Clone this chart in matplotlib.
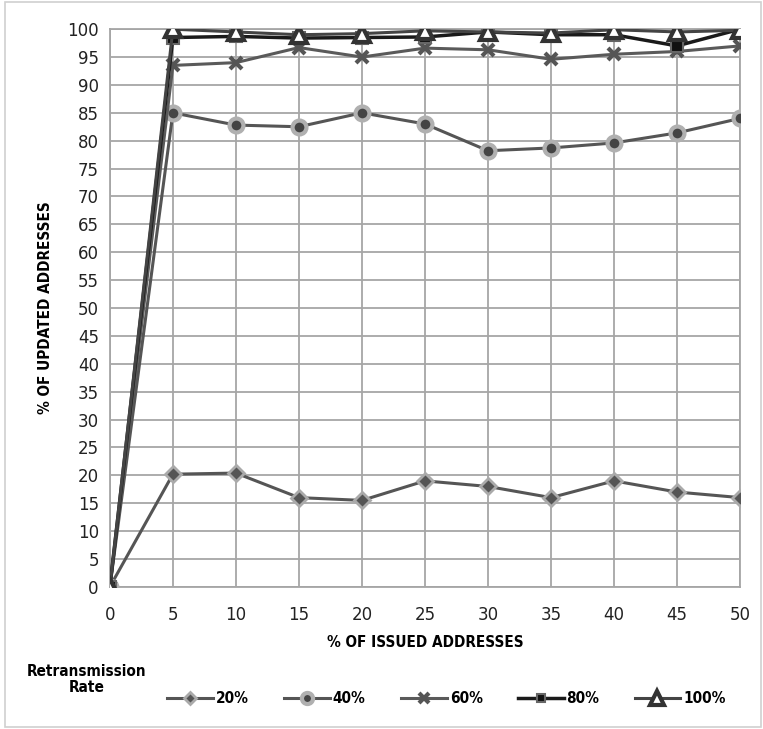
import matplotlib.pyplot as plt
import numpy as np

x = np.array([0, 5, 10, 15, 20, 25, 30, 35, 40, 45, 50])
r20 = [0, 20.2, 20.4, 16, 15.5, 19, 18, 16, 19, 17, 16]
r40 = [0, 85, 82.8, 82.5, 85, 83, 78.2, 78.7, 79.6, 81.4, 84]
r60 = [0, 93.5, 94, 96.7, 95, 96.6, 96.3, 94.6, 95.5, 96, 97]
r80 = [0, 98.5, 98.7, 98.4, 98.5, 98.6, 99.5, 99, 99, 97, 100]
r100 = [0, 100, 99.5, 99, 99.2, 99.7, 99.5, 99.3, 99.9, 99.5, 99.8]
names = ['20%', '40%', '60%', '80%', '100%']

fig = plt.figure(figsize=(7.63, 7.29), dpi=100)
ax = fig.add_axes([0.144, 0.195, 0.826, 0.765])

bold = dict(family='DejaVu Sans', stretch='condensed', fontweight='bold', fontsize=11)

ax.plot(x, r20, color='#555555', lw=2.2, marker='D', ms=8, mfc='#555555',
        mec='#aaaaaa', mew=2, label=names[0], zorder=3)
ax.plot(x, r40, color='#555555', lw=2.2, marker='o', ms=10, mfc='#444444',
        mec='#b0b0b0', mew=3, label=names[1], zorder=3)
ax.plot(x, r60, color='#5a5a5a', lw=2.2, marker='x', ms=9, mew=3,
        mec='#555555', label=names[2], zorder=4)
ax.plot(x, r80, color='#1a1a1a', lw=2.5, marker='s', ms=8, mfc='#111111',
        mec='#666666', mew=1.5, label=names[3], zorder=5)
ax.plot(x, r100, color='#444444', lw=2.2, marker='^', ms=12, mfc='white',
        mec='#333333', mew=3, label=names[4], zorder=6)

ax.set_xlim(0, 50)
ax.set_ylim(0, 100)
ax.set_xticks(x)
ax.set_yticks(np.arange(0, 101, 5))
ax.grid(True, color='#a6a6a6', lw=1.3)
ax.set_axisbelow(True)
for s in ax.spines.values():
    s.set_color('#a6a6a6')
    s.set_linewidth(1.3)
ax.tick_params(length=0, labelsize=12, labelcolor='#222222')
ax.tick_params(axis='x', pad=14)
ax.tick_params(axis='y', pad=8)

ax.set_xlabel('% OF ISSUED ADDRESSES', labelpad=8, **bold)
ax.set_ylabel('% OF UPDATED ADDRESSES', labelpad=10, **bold)

fig.text(0.114, 0.068, 'Retransmission\nRate', ha='center', va='center',
         linespacing=1.05, **bold)
leg = fig.legend(loc='center left', bbox_to_anchor=(0.219, 0.042), ncol=5,
                 frameon=False, handlelength=3.0, columnspacing=2.3,
                 handletextpad=0.2, borderaxespad=0, borderpad=0, markerscale=0.8,
                 prop=dict(family='DejaVu Sans', stretch='condensed',
                           weight='bold', size=11))

fig.patches.append(plt.Rectangle((0.006, 0.003), 0.992, 0.994, transform=fig.transFigure,
                                 fill=False, edgecolor='#d0d0d0', lw=1.2))

fig.savefig('out.png', dpi=100, facecolor='white')
